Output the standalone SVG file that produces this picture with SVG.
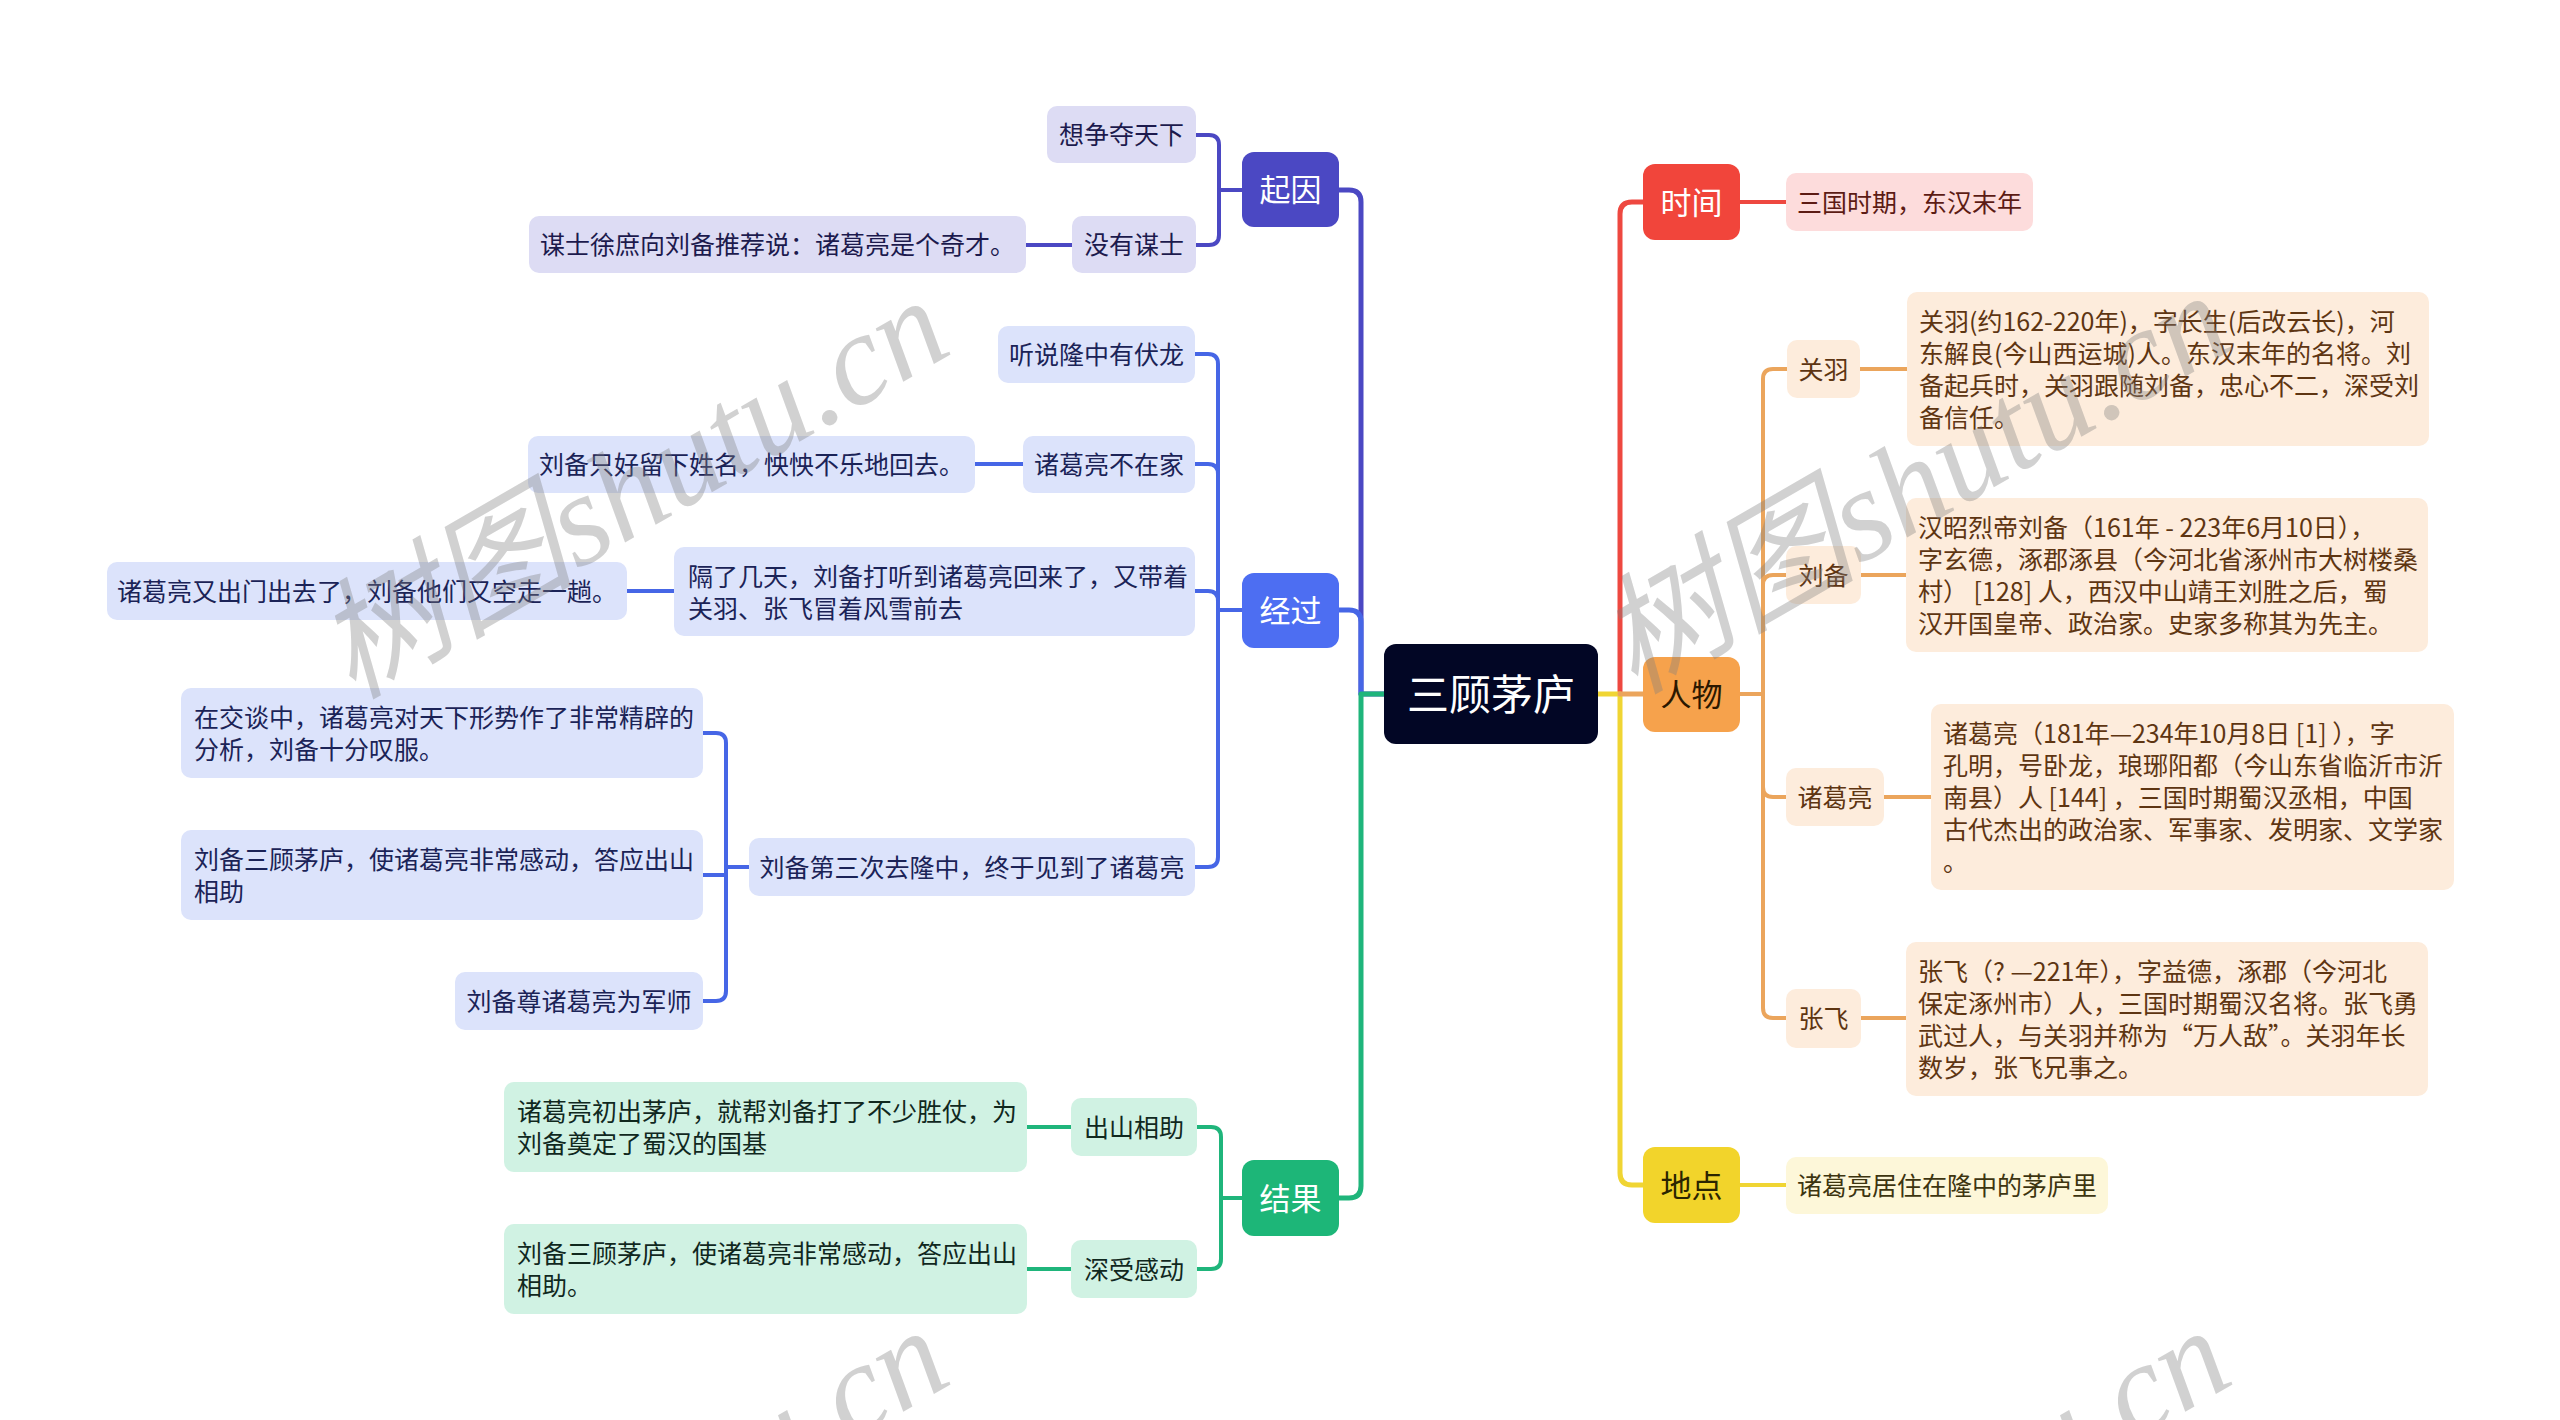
<svg xmlns="http://www.w3.org/2000/svg" width="2560" height="1420" viewBox="0 0 2560 1420">
<style>
text{font-family:"Noto Sans CJK SC","Noto Sans",sans-serif;}
.t{font-size:25px;}
.c{text-anchor:middle;}
.l1{font-size:31px;text-anchor:middle;}
.main{font-size:42px;text-anchor:middle;fill:#ffffff;}
.w{fill:#ffffff;}
.ln{fill:none;stroke-width:5;stroke-linecap:round;stroke-linejoin:round;}
.sl{fill:none;stroke-width:4;stroke-linecap:butt;stroke-linejoin:round;}
.pu{stroke:#4b48c3;} .bl{stroke:#4666e6;} .gr{stroke:#1fb57b;} .rd{stroke:#ee4840;} .or{stroke:#eba55c;} .ye{stroke:#f0d533;}
.fpu{fill:#dddcf4;} .fbl{fill:#dce3fb;} .fgr{fill:#d0f2e3;} .frd{fill:#fddcdc;} .for{fill:#fdecdc;} .fye{fill:#fdf7d9;}
.tpu{fill:#1c1a4d;} .tbl{fill:#1b2357;} .tgr{fill:#10281e;} .trd{fill:#5c1b14;} .tor{fill:#5e3512;} .tye{fill:#3d3510;}
.wm{font-family:"Liberation Serif","Noto Sans CJK SC",serif;font-style:italic;font-size:130px;fill:#808080;fill-opacity:0.36;}
</style>

<g id="connectors">
  <path class="ln pu" d="M1384,694 H1361 V202 Q1361,190 1349,190 H1339"/>
  <path class="ln bl" d="M1361,694 V622 Q1361,610 1349,610 H1339"/>
  <path class="ln gr" d="M1384,694 H1361 V1186 Q1361,1198 1349,1198 H1339"/>
  <path class="ln rd" d="M1620,694 V214 Q1620,202 1632,202 H1643"/>
  <path class="ln ye" d="M1598,694 H1620 V1173 Q1620,1185 1632,1185 H1643"/>
  <path class="ln or" d="M1620,694 H1643"/>

  <path class="sl pu" d="M1242,190 H1219 V145 Q1219,135 1209,135 H1196"/>
  <path class="sl pu" d="M1242,190 H1219 V235 Q1219,245 1209,245 H1196"/>
  <path class="sl pu" d="M1072,245 H1026"/>

  <path class="sl bl" d="M1242,610 H1218 V364 Q1218,354 1208,354 H1195"/>
  <path class="sl bl" d="M1242,610 H1218 V474 Q1218,464 1208,464 H1195"/>
  <path class="sl bl" d="M1242,610 H1218 V601 Q1218,591 1208,591 H1195"/>
  <path class="sl bl" d="M1242,610 H1218 V857 Q1218,867 1208,867 H1195"/>
  <path class="sl bl" d="M1023,464 H975"/>
  <path class="sl bl" d="M674,591 H627"/>
  <path class="sl bl" d="M749,867 H726 V743 Q726,733 716,733 H703"/>
  <path class="sl bl" d="M749,867 H726 V875 H703"/>
  <path class="sl bl" d="M749,867 H726 V991 Q726,1001 716,1001 H703"/>

  <path class="sl gr" d="M1242,1198 H1221 V1137 Q1221,1127 1211,1127 H1197"/>
  <path class="sl gr" d="M1242,1198 H1221 V1259 Q1221,1269 1211,1269 H1197"/>
  <path class="sl gr" d="M1071,1127 H1027"/>
  <path class="sl gr" d="M1071,1269 H1027"/>

  <path class="sl rd" d="M1740,202 H1786"/>

  <path class="sl or" d="M1740,694 H1763 V379 Q1763,369 1773,369 H1787"/>
  <path class="sl or" d="M1740,694 H1763 V585 Q1763,575 1773,575 H1786"/>
  <path class="sl or" d="M1740,694 H1763 V787 Q1763,797 1773,797 H1786"/>
  <path class="sl or" d="M1740,694 H1763 V1008 Q1763,1018 1773,1018 H1786"/>
  <path class="sl or" d="M1860,369 H1907"/>
  <path class="sl or" d="M1861,575 H1906"/>
  <path class="sl or" d="M1884,797 H1931"/>
  <path class="sl or" d="M1861,1018 H1906"/>

  <path class="sl ye" d="M1740,1185 H1786"/>
</g>

<g id="root">
  <rect x="1384" y="644" width="214" height="100" rx="12" fill="#020625"/>
  <text class="main" x="1491" y="710">三顾茅庐</text>
</g>

<g id="n-qiyin">
  <rect x="1242" y="152" width="97" height="75" rx="12" fill="#4b48c3"/>
  <text class="l1 w" x="1290.5" y="201">起因</text>
</g>
<g id="n-jingguo">
  <rect x="1242" y="573" width="97" height="75" rx="12" fill="#4d6ef2"/>
  <text class="l1 w" x="1290.5" y="622">经过</text>
</g>
<g id="n-jieguo">
  <rect x="1242" y="1160" width="97" height="76" rx="12" fill="#1db678"/>
  <text class="l1 w" x="1290.5" y="1210">结果</text>
</g>
<g id="n-shijian">
  <rect x="1643" y="164" width="97" height="76" rx="12" fill="#f1453b"/>
  <text class="l1 w" x="1691.5" y="214">时间</text>
</g>
<g id="n-renwu">
  <rect x="1643" y="657" width="97" height="75" rx="12" fill="#f6a24c"/>
  <text class="l1" x="1691.5" y="706" fill="#2b1800">人物</text>
</g>
<g id="n-didian">
  <rect x="1643" y="1147" width="97" height="76" rx="12" fill="#f2d42b"/>
  <text class="l1" x="1691.5" y="1197" fill="#2b2500">地点</text>
</g>

<g id="n-a1">
  <rect class="fpu" x="1047" y="106" width="149" height="57" rx="10"/>
  <text class="t c tpu" x="1121.5" y="144">想争夺天下</text>
</g>
<g id="n-a2">
  <rect class="fpu" x="1072" y="216" width="124" height="57" rx="10"/>
  <text class="t c tpu" x="1134" y="254">没有谋士</text>
</g>
<g id="n-a2a">
  <rect class="fpu" x="529" y="216" width="497" height="57" rx="10"/>
  <text class="t c tpu" x="777.5" y="254">谋士徐庶向刘备推荐说：诸葛亮是个奇才。</text>
</g>

<g id="n-b1">
  <rect class="fbl" x="998" y="326" width="197" height="57" rx="10"/>
  <text class="t c tbl" x="1096.5" y="364">听说隆中有伏龙</text>
</g>
<g id="n-b2">
  <rect class="fbl" x="1023" y="436" width="172" height="57" rx="10"/>
  <text class="t c tbl" x="1109" y="474">诸葛亮不在家</text>
</g>
<g id="n-b2a">
  <rect class="fbl" x="528" y="436" width="447" height="57" rx="10"/>
  <text class="t c tbl" x="751.5" y="474">刘备只好留下姓名，怏怏不乐地回去。</text>
</g>
<g id="n-b3">
  <rect class="fbl" x="674" y="547" width="521" height="89" rx="10"/>
  <text class="t tbl" x="688" y="586">隔了几天，刘备打听到诸葛亮回来了，又带着</text>
  <text class="t tbl" x="688" y="618">关羽、张飞冒着风雪前去</text>
</g>
<g id="n-b3a">
  <rect class="fbl" x="107" y="562" width="520" height="58" rx="10"/>
  <text class="t c tbl" x="367" y="600.5">诸葛亮又出门出去了，刘备他们又空走一趟。</text>
</g>
<g id="n-b4">
  <rect class="fbl" x="749" y="838" width="446" height="58" rx="10"/>
  <text class="t c tbl" x="972" y="876.5">刘备第三次去隆中，终于见到了诸葛亮</text>
</g>
<g id="n-b4a">
  <rect class="fbl" x="181" y="688" width="522" height="90" rx="10"/>
  <text class="t tbl" x="194" y="726.5">在交谈中，诸葛亮对天下形势作了非常精辟的</text>
  <text class="t tbl" x="194" y="758.5">分析，刘备十分叹服。</text>
</g>
<g id="n-b4b">
  <rect class="fbl" x="181" y="830" width="522" height="90" rx="10"/>
  <text class="t tbl" x="194" y="868.5">刘备三顾茅庐，使诸葛亮非常感动，答应出山</text>
  <text class="t tbl" x="194" y="900.5">相助</text>
</g>
<g id="n-b4c">
  <rect class="fbl" x="455" y="972" width="248" height="58" rx="10"/>
  <text class="t c tbl" x="579" y="1010.5">刘备尊诸葛亮为军师</text>
</g>

<g id="n-c1">
  <rect class="fgr" x="1071" y="1098" width="126" height="58" rx="10"/>
  <text class="t c tgr" x="1134" y="1136.5">出山相助</text>
</g>
<g id="n-c1a">
  <rect class="fgr" x="504" y="1082" width="523" height="90" rx="10"/>
  <text class="t tgr" x="517" y="1120.5">诸葛亮初出茅庐，就帮刘备打了不少胜仗，为</text>
  <text class="t tgr" x="517" y="1152.5">刘备奠定了蜀汉的国基</text>
</g>
<g id="n-c2">
  <rect class="fgr" x="1071" y="1240" width="126" height="58" rx="10"/>
  <text class="t c tgr" x="1134" y="1278.5">深受感动</text>
</g>
<g id="n-c2a">
  <rect class="fgr" x="504" y="1224" width="523" height="90" rx="10"/>
  <text class="t tgr" x="517" y="1262.5">刘备三顾茅庐，使诸葛亮非常感动，答应出山</text>
  <text class="t tgr" x="517" y="1294.5">相助。</text>
</g>

<g id="n-d1">
  <rect class="frd" x="1786" y="173" width="247" height="58" rx="10"/>
  <text class="t c trd" x="1909.5" y="211.5">三国时期，东汉末年</text>
</g>

<g id="n-e1">
  <rect class="for" x="1787" y="340" width="73" height="58" rx="10"/>
  <text class="t c tor" x="1823.5" y="378.5">关羽</text>
</g>
<g id="n-e1a">
  <rect class="for" x="1907" y="292" width="522" height="154" rx="10"/>
  <text class="t tor" x="1919" y="330.5">关羽(约162-220年)，字长生(后改云长)，河</text>
  <text class="t tor" x="1919" y="362.5">东解良(今山西运城)人。东汉末年的名将。刘</text>
  <text class="t tor" x="1919" y="394.5">备起兵时，关羽跟随刘备，忠心不二，深受刘</text>
  <text class="t tor" x="1919" y="426.5">备信任。</text>
</g>
<g id="n-e2">
  <rect class="for" x="1786" y="546" width="75" height="58" rx="10"/>
  <text class="t c tor" x="1823.5" y="584.5">刘备</text>
</g>
<g id="n-e2a">
  <rect class="for" x="1906" y="498" width="522" height="154" rx="10"/>
  <text class="t tor" x="1918" y="536.5">汉昭烈帝刘备（161年 - 223年6月10日），</text>
  <text class="t tor" x="1918" y="568.5">字玄德，涿郡涿县（今河北省涿州市大树楼桑</text>
  <text class="t tor" x="1918" y="600.5">村） [128] 人，西汉中山靖王刘胜之后，蜀</text>
  <text class="t tor" x="1918" y="632.5">汉开国皇帝、政治家。史家多称其为先主。</text>
</g>
<g id="n-e3">
  <rect class="for" x="1786" y="768" width="98" height="58" rx="10"/>
  <text class="t c tor" x="1835" y="806.5">诸葛亮</text>
</g>
<g id="n-e3a">
  <rect class="for" x="1931" y="704" width="523" height="186" rx="10"/>
  <text class="t tor" x="1943" y="742.5">诸葛亮（181年—234年10月8日 [1] ），字</text>
  <text class="t tor" x="1943" y="774.5">孔明，号卧龙，琅琊阳都（今山东省临沂市沂</text>
  <text class="t tor" x="1943" y="806.5">南县）人 [144] ，三国时期蜀汉丞相，中国</text>
  <text class="t tor" x="1943" y="838.5">古代杰出的政治家、军事家、发明家、文学家</text>
  <text class="t tor" x="1943" y="870.5">。</text>
</g>
<g id="n-e4">
  <rect class="for" x="1786" y="989" width="75" height="59" rx="10"/>
  <text class="t c tor" x="1823.5" y="1028">张飞</text>
</g>
<g id="n-e4a">
  <rect class="for" x="1906" y="942" width="522" height="154" rx="10"/>
  <text class="t tor" x="1918" y="980.5">张飞（? —221年），字益德，涿郡（今河北</text>
  <text class="t tor" x="1918" y="1012.5">保定涿州市）人，三国时期蜀汉名将。张飞勇</text>
  <text class="t tor" x="1918" y="1044.5">武过人，与关羽并称为“万人敌”。关羽年长</text>
  <text class="t tor" x="1918" y="1076.5">数岁，张飞兄事之。</text>
</g>

<g id="n-f1">
  <rect class="fye" x="1786" y="1157" width="322" height="57" rx="10"/>
  <text class="t c tye" x="1947" y="1195">诸葛亮居住在隆中的茅庐里</text>
</g>

<g id="watermark">
  <text class="wm" transform="translate(352,700) rotate(-30)">树图shutu.cn</text>
  <text class="wm" transform="translate(1634,695) rotate(-30)">树图shutu.cn</text>
  <text class="wm" transform="translate(352,1730) rotate(-30)">树图shutu.cn</text>
  <text class="wm" transform="translate(1634,1730) rotate(-30)">树图shutu.cn</text>
</g>
</svg>
